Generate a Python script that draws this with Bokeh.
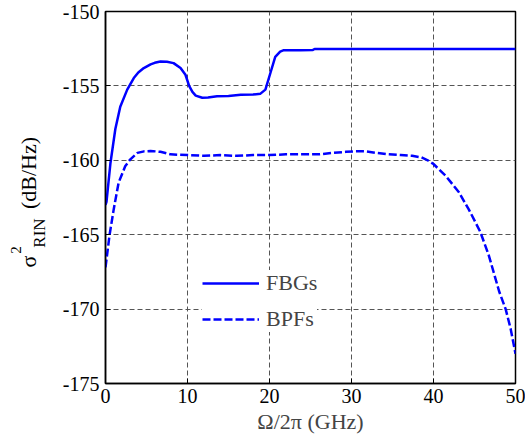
import math
from bokeh.plotting import figure
from bokeh.layouts import row
from bokeh.models import Range1d, Label, Legend, LegendItem, FixedTicker
from bokeh.embed import file_html
from bokeh.resources import INLINE

# ---- data ----
fbg_x = [0, 0.12, 0.6, 1.2, 1.8, 2.65, 3.45, 4.0, 4.67, 5.5, 6.0, 6.7, 7.5, 8.3, 9.15,
         9.75, 10.2, 10.6, 11.0, 11.8, 12.5, 13.6, 15, 16.5, 18, 18.9, 19.5, 20.1, 20.7,
         21.3, 21.75, 23.8, 25.3, 25.5, 30, 35, 40, 45, 50]
fbg_y = [-163.0, -162.8, -160.2, -157.9, -156.4, -155.25, -154.47, -154.1, -153.8, -153.55,
         -153.45, -153.36, -153.38, -153.47, -153.8, -154.25, -155.0, -155.4, -155.65,
         -155.8, -155.78, -155.7, -155.68, -155.6, -155.58, -155.52, -155.25, -154.15,
         -153.05, -152.7, -152.6, -152.6, -152.58, -152.52, -152.52, -152.52, -152.52,
         -152.52, -152.52]

bpf_x = [0, 0.5, 1.0, 1.6, 2.4, 3.0, 3.9, 4.7, 5.5, 6.7, 7.9, 10, 12, 14, 16, 18, 20, 22,
         24, 26, 27.8, 29.3, 30.5, 31.7, 33, 34.5, 36, 37.4, 38.5, 39.3, 40.0, 41.5, 43.1,
         44.3, 45.1, 45.7, 46.75, 48.0, 48.8, 49.4, 50]
bpf_y = [-167.2, -165.0, -163.3, -161.5, -160.4, -159.95, -159.5, -159.4, -159.37, -159.43,
         -159.6, -159.65, -159.7, -159.65, -159.7, -159.65, -159.65, -159.6, -159.6,
         -159.6, -159.5, -159.43, -159.4, -159.4, -159.5, -159.6, -159.65, -159.7, -159.8,
         -160.0, -160.25, -161.05, -162.15, -163.3, -164.15, -164.8, -166.4, -168.8,
         -170.0, -171.3, -173.0]

x_ticks = [0, 10, 20, 30, 40, 50]
y_ticks = [-175, -170, -165, -160, -155, -150]
series_names = ["FBGs", "BPFs"]

FONT = "Liberation Serif"
BLUE = "#0000ff"

W, H = 525, 441
LW = 55                              # width of the strip that holds the y-axis title
BL, BR, BT, BB = 105 - LW, 10, 11, 58  # borders around the plotting frame

p = figure(width=W - LW, height=H, output_backend="svg", toolbar_location=None,
           x_range=Range1d(0, 50), y_range=Range1d(-175, -150),
           min_border_left=BL, min_border_right=BR, min_border_top=BT, min_border_bottom=BB)
p.background_fill_color = "white"
p.border_fill_color = "white"
p.outline_line_color = "black"
p.outline_line_width = 1.5

# axes
for ax in (p.xaxis[0], p.yaxis[0]):
    ax.major_label_text_font = FONT
    ax.major_label_text_font_size = "20px"
    ax.major_label_text_color = "black"
    ax.axis_line_color = "black"
    ax.axis_line_width = 1.5
    ax.major_tick_in = 5
    ax.major_tick_out = 0
    ax.minor_tick_in = 0
    ax.minor_tick_out = 0
    ax.major_tick_line_color = "black"

p.xaxis.ticker = FixedTicker(ticks=x_ticks)
p.yaxis.ticker = FixedTicker(ticks=y_ticks)
p.yaxis.major_label_overrides = {t: str(t) for t in y_ticks}
p.xaxis.major_label_overrides = {t: str(t) for t in x_ticks}
p.yaxis.major_label_standoff = 6
p.xaxis.major_label_standoff = 5

p.xaxis.axis_label = "Ω/2π (GHz)"
p.xaxis.axis_label_text_font = FONT
p.xaxis.axis_label_text_font_style = "normal"
p.xaxis.axis_label_text_font_size = "22px"
p.xaxis.axis_label_standoff = 3

# grid
p.grid.grid_line_color = "#555555"
p.grid.grid_line_dash = "5 3"
p.grid.grid_line_width = 1

# data lines
r1 = p.line(fbg_x, fbg_y, line_color=BLUE, line_width=2.5)
r2 = p.line(bpf_x, bpf_y, line_color=BLUE, line_width=2.5, line_dash="8 3")

legend = Legend(items=[LegendItem(label=series_names[0], renderers=[r1]),
                       LegendItem(label=series_names[1], renderers=[r2])],
                location=(97, 51), orientation="vertical",
                label_text_font=FONT, label_text_font_size="22px",
                glyph_width=57, glyph_height=24, label_height=24, label_standoff=7,
                spacing=10, padding=2, margin=0,
                border_line_color=None, background_fill_color="white",
                background_fill_alpha=1.0)
p.add_layout(legend, "center")

# ---- left strip holding the y-axis title: sigma^2_RIN (dB/Hz) ----
# The row aligns this strip's frame with the main frame (rows BT .. H-BB of the canvas),
# so its y range is expressed in "canvas pixels counted from the bottom" over that span.
lab = figure(width=LW, height=H, output_backend="svg", toolbar_location=None,
             x_range=Range1d(0, LW), y_range=Range1d(BB, H - BT),
             x_axis_type=None, y_axis_type=None, title=None,
             min_border_left=0, min_border_right=0, min_border_top=BT, min_border_bottom=BB)
lab.grid.visible = False
lab.outline_line_color = None
lab.background_fill_color = "white"
lab.border_fill_color = "white"

rot = math.pi / 2
def ylab(cx, cy, text, size):
    # cx, cy: canvas pixel position (from top-left) of the centre of the text piece
    lab.add_layout(Label(x=cx, y=H - cy, text=text,
                         angle=rot, text_font=FONT, text_font_size=size,
                         text_align="center", text_baseline="middle", text_color="black"))

ylab(28, 261, "σ", "22px")
ylab(15, 249.5, "2", "15px")
ylab(39, 232.5, "RIN", "17px")
ylab(27.5, 172.5, "(dB/Hz)", "22px")

layout = row(lab, p, spacing=0)
open("out.html", "w").write(file_html(layout, INLINE))
